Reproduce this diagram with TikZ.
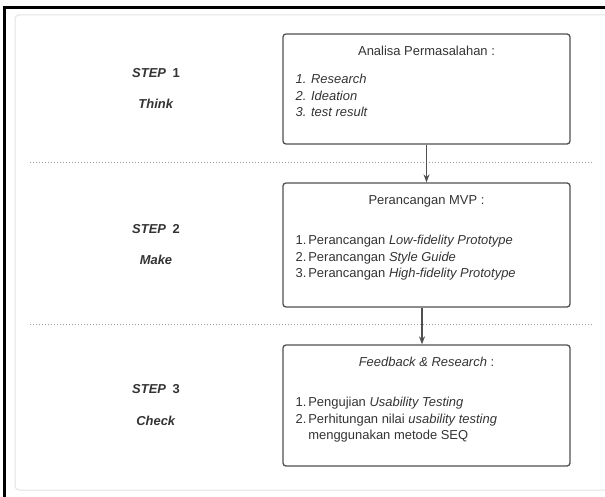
\documentclass[tikz,border=0pt]{standalone}
\usepackage{fontspec}
\setmainfont{Liberation Sans}
\usetikzlibrary{positioning, arrows.meta}

\definecolor{boxline}{HTML}{505050}
\definecolor{inktext}{HTML}{333333}
\definecolor{sepdots}{HTML}{9A9A9A}
\definecolor{framegray}{HTML}{E2E2E2}

\begin{document}
\begin{tikzpicture}[x=1bp, y=-1bp,
    stepbox/.style={draw=boxline, line width=1.3bp, rounded corners=3bp, minimum width=287bp, inner sep=0pt},
    boxtitle/.style={font=\fontsize{13}{16}\selectfont, text=inktext, inner sep=0pt},
    itemlist/.style={font=\fontsize{13}{16.5}\selectfont, text=inktext, align=left, inner sep=0pt},
    steplabel/.style={font=\fontsize{13}{16}\selectfont\bfseries, text=inktext, inner sep=0pt},
    separator/.style={sepdots, line width=1bp, dash pattern=on 1.4bp off 1.6bp},
    flow/.style={boxline, line width=1.3bp, -{Stealth[length=8bp, width=6bp]}}
]
    \useasboundingbox (0,0) rectangle (605,497);

    % Page frame
    \draw[framegray, line width=1bp, rounded corners=4bp] (15,15) rectangle (640,490);
    \draw[black, line width=3bp] (4.5,497) -- (4.5,7.5) -- (605,7.5);

    % Step 1 (Think)
    \node[stepbox, minimum height=110bp] (analisa) at (426.5,89) {};
    \node[boxtitle, below=13bp of analisa.north] (analisaTitle) {Analisa Permasalahan :};
    \node[itemlist, font=\fontsize{13}{16.5}\selectfont\itshape, below right=41bp and 13bp of analisa.north west] (analisaList)
        {1. Research\\ 2. Ideation\\ 3. test result};
    \node[steplabel] (stepOne) at (156,73) {\textit{STEP}\enspace1};
    \node[steplabel] (think) at (156,104) {\textit{Think}};

    % Separator
    \coordinate (sepOneW) at (30,163);
    \coordinate (sepOneE) at (594,163);
    \draw[separator] (sepOneW) -- (sepOneE);

    % Step 2 (Make)
    \node[stepbox, minimum height=124bp] (mvp) at (426.5,245) {};
    \node[boxtitle, below=13bp of mvp.north] (mvpTitle) {Perancangan MVP :};
    \node[itemlist, below right=53bp and 13bp of mvp.north west] (mvpList)
        {1.\hspace{2bp}Perancangan \textit{Low-fidelity Prototype}\\
         2.\hspace{2bp}Perancangan \textit{Style Guide}\\
         3.\hspace{2bp}Perancangan \textit{High-fidelity Prototype}};
    \node[steplabel] (stepTwo) at (156,229) {\textit{STEP}\enspace2};
    \node[steplabel] (make) at (156,260) {\textit{Make}};

    % Separator
    \coordinate (sepTwoW) at (30,324);
    \coordinate (sepTwoE) at (594,324);
    \draw[separator] (sepTwoW) -- (sepTwoE);

    % Step 3 (Check)
    \node[stepbox, minimum height=121bp] (feedback) at (426.5,405.5) {};
    \node[boxtitle, below=13bp of feedback.north] (feedbackTitle) {\textit{Feedback \& Research} :};
    \node[itemlist, below right=53bp and 13bp of feedback.north west] (feedbackList)
        {1.\hspace{2bp}Pengujian \textit{Usability Testing}\\
         2.\hspace{2bp}Perhitungan nilai \textit{usability testing}\\
         \hphantom{2.\hspace{2bp}}menggunakan metode SEQ};
    \node[steplabel] (stepThree) at (156,389.5) {\textit{STEP}\enspace3};
    \node[steplabel] (check) at (156,420.5) {\textit{Check}};

    % Arrows
    \draw[flow] (analisa.south) -- (mvp.north);
    \draw[flow] ([xshift=-4.5bp]mvp.south) -- ([xshift=-4.5bp]feedback.north);

\end{tikzpicture}
\end{document}
